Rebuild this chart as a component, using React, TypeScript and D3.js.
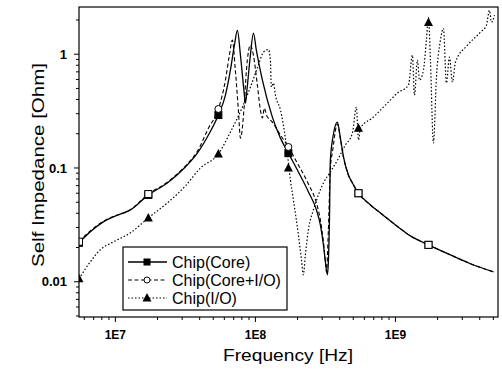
import React from "react";
import * as d3 from "d3";

// frequency in MHz, impedance in Ohm
const coreData: [number, number][] = [
  [5.5, 0.022], [6.63, 0.0275], [8.21, 0.0336], [9.68, 0.0372], [12.8, 0.0428], [17.2, 0.058],
  [23.5, 0.0738], [31.6, 0.102], [38.5, 0.135], [46.2, 0.195], [54.4, 0.292], [61.1, 0.437],
  [66.3, 0.724], [70.8, 1.2], [74.4, 1.62], [78.2, 0.98], [82.8, 0.483], [84.9, 0.372],
  [87.0, 0.483], [92.1, 0.98], [96.8, 1.53], [101.6, 1.08], [112.2, 0.591], [132.2, 0.28],
  [151, 0.183], [172, 0.135], [202.8, 0.0923], [239.2, 0.0616], [272.7, 0.0428], [291, 0.0316],
  [306, 0.0211], [316, 0.015], [326.6, 0.0115], [332, 0.015], [338, 0.035], [343, 0.117],
  [360, 0.195], [385, 0.253], [404.6, 0.183], [425.6, 0.125], [461.6, 0.0868], [493, 0.0738],
  [544.5, 0.06], [662.5, 0.0473], [781, 0.0403], [1000, 0.0316], [1280, 0.0253], [1722, 0.0211],
  [2471, 0.0172], [3433, 0.0144], [5012, 0.0122],
];

const coreIoData: [number, number][] = [
  [5.5, 0.0225], [6.63, 0.028], [8.21, 0.034], [9.68, 0.0375], [12.8, 0.043], [17.2, 0.059],
  [23.5, 0.075], [31.6, 0.104], [38.5, 0.14], [46.2, 0.224], [54.4, 0.33], [61.1, 0.591],
  [65.2, 0.98], [68.5, 1.33], [71.9, 0.724], [75.6, 0.323], [78.2, 0.183], [82.8, 0.323],
  [86.3, 0.724], [92.1, 1.2], [96.8, 0.98], [103.3, 0.535], [108.6, 0.323], [112.2, 0.275],
  [115.9, 0.336], [119.9, 0.292], [132.2, 0.253], [151, 0.195], [172, 0.153], [202.8, 0.106],
  [239.2, 0.0724], [272.7, 0.0493], [291, 0.035], [306, 0.0224], [316, 0.015], [321.4, 0.0122],
  [332, 0.0286], [343, 0.1], [355, 0.138], [385, 0.243], [404.6, 0.18], [425.6, 0.124],
  [461.6, 0.0868], [493, 0.0738], [544.5, 0.06], [662.5, 0.0473], [781, 0.0403], [1000, 0.0316],
  [1280, 0.0253], [1722, 0.0211], [2471, 0.0172], [3433, 0.0144], [5012, 0.0122],
];

const ioData: [number, number][] = [
  [5.5, 0.0106], [6.63, 0.015], [7.81, 0.0191], [9.68, 0.0224], [12.8, 0.0269], [17.2, 0.0364],
  [23.5, 0.0493], [31.6, 0.0695], [40.5, 0.1], [54.4, 0.133], [66.3, 0.207], [80.8, 0.343],
  [92.1, 0.514], [105, 0.801], [114, 1.04], [123.8, 1.1], [128, 0.886], [130, 0.514],
  [134.6, 0.557], [139, 0.437], [151, 0.323], [164, 0.18], [172, 0.112], [177.8, 0.0785],
  [186.8, 0.0524], [202.8, 0.0258], [213.3, 0.0156], [220, 0.0115], [227.4, 0.0172], [239, 0.0286],
  [259.5, 0.0428], [281.8, 0.058], [306, 0.0738], [343, 0.0923], [385, 0.117], [439, 0.159],
  [493, 0.203], [526, 0.343], [544.5, 0.176], [562, 0.224], [696, 0.28], [848, 0.357],
  [1033, 0.455], [1239, 0.535], [1322, 0.98], [1367, 0.437], [1436, 0.886], [1484, 0.591],
  [1585, 0.724], [1664, 1.33], [1722, 2.11], [1778, 0.886], [1868, 0.166], [1963, 0.629],
  [2096, 1.33], [2202, 1.69], [2312, 0.557], [2430, 0.942], [2553, 0.568], [2683, 0.851],
  [3268, 1.2], [4046, 1.56], [4467, 1.8], [4690, 2.43], [4850, 1.91], [5100, 2.2],
];

const markerFreqs = [5.5, 17.2, 54.4, 172, 544.5, 1722];
const coreMarkers = [0.022, 0.058, 0.292, 0.135, 0.06, 0.0211];
const coreIoMarkers = [0.0225, 0.059, 0.33, 0.153, 0.06, 0.0211];
const ioMarkers = [0.0106, 0.0364, 0.133, 0.1, 0.224, 1.9];

const xTickValues = [1e7, 1e8, 1e9];
const xTickLabels = ["1E7", "1E8", "1E9"];
const yTickValues = [0.01, 0.1, 1];
const yTickLabels = ["0.01", "0.1", "1"];
const legendLabels = ["Chip(Core)", "Chip(Core+I/O)", "Chip(I/O)"];

const L = 79, R = 498, T = 7, B = 317;

export default function App() {
  const x = d3.scaleLog().domain([5.5e6, 5.4e9]).range([L, R]);
  const y = d3.scaleLog().domain([0.0049, 2.6]).range([B, T]);
  const gen = d3
    .line<[number, number]>()
    .x((d) => x(d[0] * 1e6))
    .y((d) => y(d[1]))
    .curve(d3.curveMonotoneX);

  const xMinor: number[] = [];
  for (let e = 6; e <= 9; e++)
    for (let k = 1; k <= 9; k++) {
      const v = k * Math.pow(10, e);
      if (v >= 5.5e6 && v <= 5.4e9) xMinor.push(v);
    }
  const yMinor: number[] = [];
  for (let e = -3; e <= 0; e++)
    for (let k = 1; k <= 9; k++) {
      const v = k * Math.pow(10, e);
      if (v >= 0.0049 && v <= 2.6) yMinor.push(v);
    }

  const sq = (cx: number, cy: number, fill: string, key: string) => (
    <rect key={key} x={cx - 3.5} y={cy - 3.5} width={7} height={7} fill={fill} stroke="#000" strokeWidth={1} />
  );
  const tri = (cx: number, cy: number, key: string) => (
    <path key={key} d={`M${cx},${cy - 5}L${cx + 4.5},${cy + 3.5}L${cx - 4.5},${cy + 3.5}Z`} fill="#000" />
  );

  return (
    <svg width={502} height={379} style={{ position: "absolute", left: 0, top: 0, background: "#fff" }}
      fontFamily="Arial, 'Liberation Sans', sans-serif">
      <defs>
        <clipPath id="plot">
          <rect x={L} y={T} width={R - L} height={B - T} />
        </clipPath>
      </defs>
      <rect x={0} y={0} width={502} height={379} fill="#fff" />
      <g clipPath="url(#plot)" fill="none" stroke="#000">
        <path d={gen(ioData) || ""} strokeWidth={1.2} strokeDasharray="1.5,2" />
        <path d={gen(coreIoData) || ""} strokeWidth={1.1} strokeDasharray="4,2.5" />
        <path d={gen(coreData) || ""} strokeWidth={1.3} />
      </g>
      <g clipPath="url(#plot)">
        {markerFreqs.map((f, i) => sq(x(f * 1e6), y(coreMarkers[i]), "#000", "s" + i))}
        {markerFreqs.map((f, i) => {
          const same = Math.abs(coreMarkers[i] - coreIoMarkers[i]) / coreMarkers[i] < 0.05;
          return same ? (
            <rect key={"c" + i} x={x(f * 1e6) - 3.5} y={y(coreIoMarkers[i]) - 3.5} width={7} height={7}
              fill="#fff" stroke="#000" strokeWidth={1} />
          ) : (
            <circle key={"c" + i} cx={x(f * 1e6)} cy={y(coreIoMarkers[i])} r={3.5} fill="#fff" stroke="#000" strokeWidth={1} />
          );
        })}
        {markerFreqs.map((f, i) => tri(x(f * 1e6), y(ioMarkers[i]), "t" + i))}
      </g>
      <rect x={L} y={T} width={R - L} height={B - T} fill="none" stroke="#000" strokeWidth={1.2} />
      {xMinor.map((v, i) => (
        <line key={"xm" + i} x1={x(v)} x2={x(v)} y1={B} y2={B + (xTickValues.includes(v) ? 5 : 3)} stroke="#000" />
      ))}
      {xTickValues.map((v, i) => (
        <text key={"xl" + i} x={x(v)} y={339} textAnchor="middle" fontSize={12} fontWeight="bold">
          {xTickLabels[i]}
        </text>
      ))}
      {yMinor.map((v, i) => (
        <line key={"ym" + i} x1={L} x2={L - (yTickValues.some((t) => Math.abs(t - v) < 1e-9) ? 5 : 3)} y1={y(v)} y2={y(v)} stroke="#000" />
      ))}
      {yTickValues.map((v, i) => (
        <text key={"yl" + i} x={67} y={y(v)} dy="0.35em" textAnchor="end" fontSize={13} fontWeight="bold">
          {yTickLabels[i]}
        </text>
      ))}
      <text x={288} y={361} textAnchor="middle" fontSize={16} textLength={130} lengthAdjust="spacingAndGlyphs">
        Frequency [Hz]
      </text>
      <text transform="translate(44,165) rotate(-90)" textAnchor="middle" fontSize={16} textLength={204}
        lengthAdjust="spacingAndGlyphs">
        Self Impedance [Ohm]
      </text>
      <rect x={123} y={247} width={164} height={63} fill="#fff" stroke="#000" strokeWidth={1.2} />
      {legendLabels.map((lab, i) => {
        const yy = 262 + i * 18;
        return (
          <g key={"lg" + i}>
            <line x1={128} x2={167} y1={yy} y2={yy} stroke="#000" strokeWidth={i === 0 ? 1.3 : 1.1}
              strokeDasharray={i === 0 ? undefined : i === 1 ? "4,2.5" : "1.5,2"} />
            {i === 0 && <rect x={143.5} y={yy - 3.5} width={7} height={7} fill="#000" />}
            {i === 1 && <circle cx={147} cy={yy} r={3} fill="#fff" stroke="#000" />}
            {i === 2 && <path d={`M147,${yy - 5}L151.5,${yy + 3.5}L142.5,${yy + 3.5}Z`} fill="#000" />}
            <text x={172} y={yy} dy="0.35em" fontSize={16}>{lab}</text>
          </g>
        );
      })}
    </svg>
  );
}
